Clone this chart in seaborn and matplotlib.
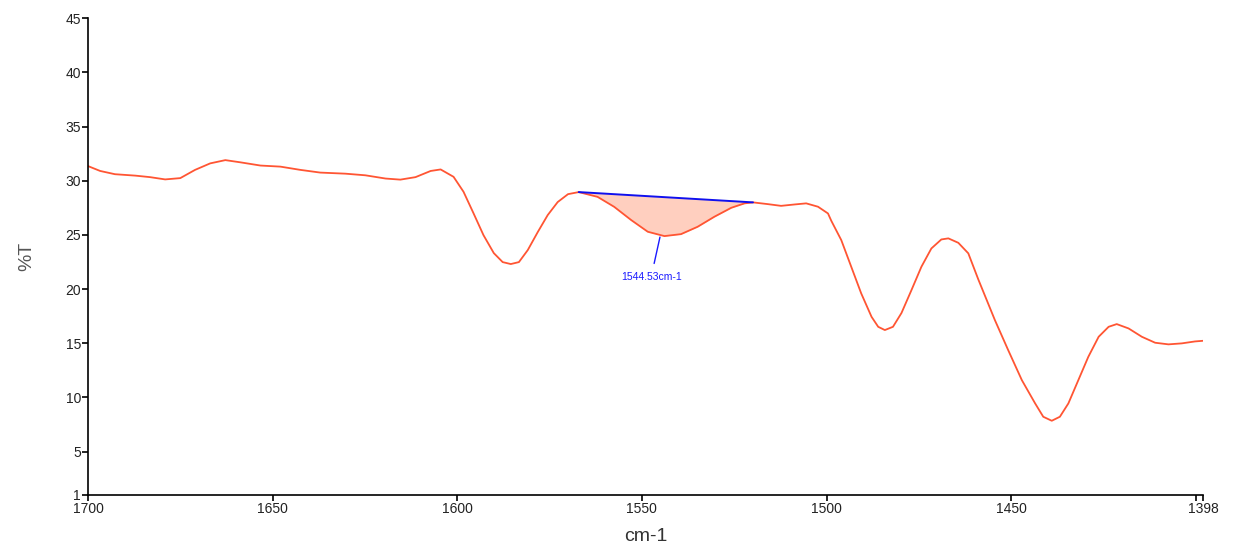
import numpy as np
import matplotlib
matplotlib.use("Agg")
import matplotlib.pyplot as plt
import seaborn as sns

# spectrum (wavenumber, %T)
wavenumber = [1700.0, 1696.7, 1692.7, 1687.2, 1683.2, 1679.1, 1675.0, 1671.0, 1666.9, 1662.8,
              1658.8, 1653.3, 1647.9, 1642.5, 1637.1, 1630.3, 1624.9, 1619.4, 1615.4, 1611.3,
              1607.2, 1604.5, 1601.0, 1598.3, 1595.6, 1592.9, 1590.1, 1587.7, 1585.5, 1583.3,
              1580.9, 1578.2, 1575.5, 1572.8, 1570.0, 1567.1, 1562.0, 1557.5, 1552.9, 1548.4,
              1543.9, 1539.4, 1534.9, 1530.4, 1525.8, 1522.2, 1519.9, 1515.9, 1512.3, 1508.6,
              1505.5, 1502.3, 1499.6, 1498.7, 1496.0, 1493.3, 1490.6, 1487.8, 1486.0, 1484.2,
              1482.0, 1479.7, 1477.0, 1474.3, 1471.6, 1468.9, 1467.0, 1464.3, 1461.6, 1458.9,
              1454.4, 1450.8, 1447.1, 1443.5, 1441.3, 1439.0, 1436.8, 1434.5, 1431.8, 1429.1,
              1426.3, 1423.6, 1421.4, 1418.2, 1414.6, 1411.0, 1407.4, 1403.8, 1400.2, 1398.0]
transmittance = [31.35, 30.9, 30.6, 30.47, 30.33, 30.12, 30.24, 31.0, 31.6, 31.9,
                 31.7, 31.4, 31.3, 31.0, 30.75, 30.65, 30.5, 30.2, 30.1, 30.33,
                 30.9, 31.04, 30.36, 28.98, 27.0, 24.98, 23.32, 22.49, 22.31, 22.49,
                 23.6, 25.26, 26.83, 28.03, 28.76, 28.95, 28.51, 27.59, 26.37, 25.29,
                 24.89, 25.07, 25.75, 26.67, 27.5, 27.91, 28.0, 27.84, 27.68, 27.81,
                 27.91, 27.6, 26.98, 26.3, 24.52, 22.06, 19.6, 17.44, 16.52, 16.22,
                 16.52, 17.79, 19.9, 22.06, 23.75, 24.58, 24.68, 24.27, 23.3, 20.9,
                 17.14, 14.37, 11.6, 9.45, 8.22, 7.85, 8.22, 9.45, 11.6, 13.75,
                 15.6, 16.52, 16.77, 16.37, 15.6, 15.05, 14.9, 14.99, 15.17, 15.23]

# integrated peak
peak_start = 1567.1
peak_end = 1519.9
peak_label = "1544.53cm-1"
peak_pos = (1545.1, 24.8)

x_ticks = [1700, 1650, 1600, 1550, 1500, 1450, 1400, 1398]
x_ticklabels = ["1700", "1650", "1600", "1550", "1500", "1450", "", "1398"]
y_ticks = [1, 5, 10, 15, 20, 25, 30, 35, 40, 45]

sns.set_style("white")
plt.rcParams['font.family'] = ['Liberation Sans', 'DejaVu Sans']

fig = plt.figure(figsize=(12.34, 5.5), dpi=100)
ax = fig.add_axes([0.0713, 0.1, 0.9037, 0.867])

wn = np.array(wavenumber)
tr = np.array(transmittance)

# shaded peak area between curve and baseline
mask = (wn <= peak_start) & (wn >= peak_end)
y_start = tr[wn == peak_start][0]
y_end = tr[wn == peak_end][0]
base = np.interp(wn[mask], [peak_end, peak_start], [y_end, y_start])
ax.fill_between(wn[mask], tr[mask], base, color='#ffcfbf', linewidth=0)

sns.lineplot(x=wn, y=tr, sort=False, color='#ff5533', linewidth=1.3, ax=ax)
ax.lines[-1].set_solid_joinstyle('round')

ax.plot([peak_start, peak_end], [y_start, y_end], color='#1010ee', linewidth=1.4)

ax.annotate(peak_label, xy=peak_pos, xytext=(1547.5, 21.1),
            ha='center', va='center', color='#1a1aff', fontsize=7.5,
            arrowprops=dict(arrowstyle='-', color='#1a1aff', lw=1.0,
                            shrinkA=4, shrinkB=0))

ax.set_xlim(1700, 1398)
ax.set_ylim(1, 45)
ax.set_xticks(x_ticks)
ax.set_xticklabels(x_ticklabels)
ax.set_yticks(y_ticks)

for s in ['top', 'right']:
    ax.spines[s].set_visible(False)
for s in ['left', 'bottom']:
    ax.spines[s].set_color('black')
    ax.spines[s].set_linewidth(1.2)

ax.tick_params(axis='both', direction='out', length=4, width=1.2,
               color='black', labelsize=10, labelcolor='#222222', pad=1,
               left=True, bottom=True)

ax.set_xlabel('cm-1', fontsize=14, color='#333333', labelpad=9)
ax.set_ylabel('%T', fontsize=14, color='#555555', labelpad=22)

fig.savefig('out.png', dpi=100)
